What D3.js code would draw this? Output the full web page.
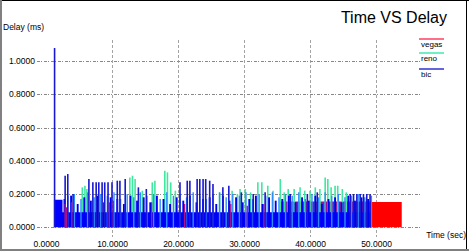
<!DOCTYPE html>
<html><head><meta charset="utf-8">
<script src="https://cdn.jsdelivr.net/npm/d3@7"></script>
<style>html,body{margin:0;padding:0;background:#fff}svg{display:block}text{font-family:"Liberation Sans",Arial,sans-serif}</style>
</head><body><svg id="c" width="469" height="251"></svg>
<script>
// ---------- data ----------
const title = "Time VS Delay";
const yAxisLabel = "Delay (ms)";
const xAxisLabel = "Time (sec)";
const seriesNames = ["vegas", "reno", "bic"];
const xTicks = [0, 10, 20, 30, 40, 50];
const xTickLabels = ["0.0000", "10.0000", "20.0000", "30.0000", "40.0000", "50.0000"];
const yTicks = [0, 0.2, 0.4, 0.6, 0.8, 1.0];
const yTickLabels = ["0.0000", "0.2000", "0.4000", "0.6000", "0.8000", "1.0000"];

// bic: dense lower envelope [time, delay]
const bicFloor = [[1.2, 0.165], [2.4, 0.165], [2.5, 0.09], [49.4, 0.09]];
// bic: dense oscillation lines [time, delay]
const bicMidA = [[2.8,0.17],[3.8,0.19],[4.8,0.14],[5.8,0.18],[6.8,0.16],[7.8,0.19],[8.8,0.15],[9.8,0.18],[10.8,0.17],[11.8,0.14],[12.8,0.19],[13.8,0.16],[14.8,0.18],[15.8,0.15],[16.8,0.19],[17.8,0.17],[18.8,0.14],[19.8,0.18],[20.8,0.16],[21.8,0.19],[22.8,0.15],[23.8,0.17],[24.8,0.18],[25.8,0.14],[26.8,0.19],[27.8,0.16],[28.8,0.18],[29.8,0.15],[30.8,0.17],[31.8,0.19],[32.8,0.14],[33.8,0.18],[34.8,0.16],[35.8,0.17],[36.8,0.19],[37.8,0.15],[38.8,0.18],[39.8,0.16],[40.8,0.19],[41.8,0.14],[42.8,0.17],[43.8,0.18],[44.8,0.15],[45.8,0.19],[46.8,0.16],[47.8,0.18],[48.8,0.17]];
const bicMidB = [[3.3,0.19],[4.3,0.2],[5.3,0.17],[6.3,0.21],[7.3,0.18],[8.3,0.2],[9.3,0.19],[10.3,0.21],[11.3,0.17],[12.3,0.2],[13.3,0.18],[14.3,0.21],[15.3,0.19],[16.3,0.2],[17.3,0.17],[18.3,0.21],[19.3,0.19],[20.3,0.2],[21.3,0.18],[22.3,0.21],[23.3,0.19],[24.3,0.17],[25.3,0.2],[26.3,0.21],[27.3,0.18],[28.3,0.2],[29.3,0.19],[30.3,0.21],[31.3,0.17],[32.3,0.2],[33.3,0.19],[34.3,0.21],[35.3,0.18],[36.3,0.2],[37.3,0.19],[38.3,0.21],[39.3,0.17],[40.3,0.2],[41.3,0.18],[42.3,0.21],[43.3,0.19],[44.3,0.2],[45.3,0.18],[46.3,0.19],[47.3,0.2],[48.3,0.18],[49.3,0.19]];
// bic: tall peaks [time, delay]
const bicPeaks = [[1.3,1.078],[2.9,0.31],[3.3,0.32],[4.1,0.2],[6.5,0.29],[7.1,0.27],[7.6,0.27],[8.0,0.27],[8.5,0.27],[8.9,0.27],[9.4,0.27],[10.0,0.27],[10.8,0.28],[11.2,0.28],[12.0,0.29],[14.0,0.24],[15.2,0.23],[20.3,0.27],[21.4,0.28],[21.8,0.28],[22.9,0.29],[23.3,0.29],[23.8,0.29],[24.2,0.29],[24.8,0.28],[25.3,0.26],[26.8,0.24],[27.7,0.25],[29.6,0.21],[31.4,0.2],[33.2,0.21],[37.0,0.2],[39.6,0.2],[41.1,0.21],[46.1,0.2],[46.6,0.2],[47.1,0.2],[47.6,0.2],[48.1,0.2],[48.6,0.2],[49.1,0.2]];
// reno peaks [time, delay]
const renoPeaks = [[5.5,0.24],[5.9,0.25],[6.2,0.23],[12.7,0.3],[13.1,0.31],[13.5,0.29],[14.6,0.22],[16.1,0.27],[16.5,0.28],[18.0,0.34],[18.4,0.33],[18.9,0.27],[19.6,0.22],[26.3,0.21],[28.2,0.22],[29.0,0.2],[29.4,0.23],[30.2,0.23],[31.0,0.21],[32.1,0.27],[32.7,0.27],[33.6,0.25],[34.4,0.22],[35.5,0.29],[36.1,0.21],[36.7,0.23],[37.6,0.23],[38.5,0.24],[39.2,0.22],[40.0,0.22],[40.8,0.24],[41.5,0.23],[42.3,0.3],[42.7,0.29],[43.2,0.24],[43.8,0.25],[44.2,0.25],[44.9,0.23],[45.5,0.21]];
// vegas: visible spikes, band and tail [time, delay]
const vegasSpikes = [[2.9,0.14],[3.1,0.12],[3.9,0.15],[9.6,0.15],[10.2,0.16],[16.0,0.15],[21.0,0.14],[28.0,0.14],[30.5,0.13],[33.0,0.14]];
const vegasBand = [[35.5,0.155],[49.4,0.155]];
const vegasTail = [[49.4,0.152],[53.9,0.152]];

// ---------- drawing ----------
const svg = d3.select("#c");
const W = 469, H = 251;
svg.append("rect").attr("width", W).attr("height", H).attr("fill", "#fff");

const x = d3.scaleLinear().domain([0, 50]).range([46, 376]);
const y = d3.scaleLinear().domain([0, 1]).range([227.25, 61]);

// gridlines
const g = svg.append("g");
g.selectAll("line.h").data(yTicks).join("line")
  .attr("x1", 37).attr("x2", 420)
  .attr("y1", d => Math.round(y(d)) + 0.5).attr("y2", d => Math.round(y(d)) + 0.5)
  .attr("stroke", "#7a7a7a").attr("stroke-width", 0.9).attr("stroke-dasharray", "3,1,1,2");
g.selectAll("line.v").data(xTicks.slice(1)).join("line")
  .attr("x1", d => Math.round(x(d)) + 0.5).attr("x2", d => Math.round(x(d)) + 0.5)
  .attr("y1", 40).attr("y2", 237)
  .attr("stroke", "#999").attr("stroke-width", 0.9).attr("stroke-dasharray", "3,2");

const plot = svg.append("g");
const vline = (sel, data, color, w) => sel.selectAll(null).data(data).join("line")
  .attr("x1", d => x(d[0])).attr("x2", d => x(d[0]))
  .attr("y1", y(0)).attr("y2", d => y(d[1]))
  .attr("stroke", color).attr("stroke-width", w);
const area = d3.area().x(d => x(d[0])).y0(y(0)).y1(d => y(d[1]));

plot.append("path").datum(vegasBand).attr("d", area).attr("fill", "#9a1090");
vline(plot.append("g"), renoPeaks, "#3ee8a0", 1.6);
plot.append("path").datum(bicFloor).attr("d", area.curve(d3.curveStepAfter)).attr("fill", "#0000ff");
vline(plot.append("g"), bicMidA, "#0000f0", 1.9);
vline(plot.append("g"), bicMidB, "#2f8cff", 1.4);
vline(plot.append("g"), bicPeaks, "#1818d0", 1.6);
vline(plot.append("g"), vegasSpikes, "#b0108a", 1.3);
plot.append("path").datum(vegasTail).attr("d", d3.area().x(d => x(d[0])).y0(y(0)).y1(d => y(d[1]))).attr("fill", "#ff0000");

// axis labels
const axY = d3.axisLeft(y).tickValues(yTicks).tickFormat((d, i) => yTickLabels[i]).tickSize(0);
const gy = svg.append("g").attr("transform", "translate(38,0)").call(axY);
gy.select(".domain").remove();
gy.selectAll("text").attr("font-size", "8.5px").attr("fill", "#000").attr("dx", "0").attr("dy", "0.32em")
  .attr("font-family", "Liberation Sans, Arial, sans-serif");

const axX = d3.axisBottom(x).tickValues(xTicks).tickFormat((d, i) => xTickLabels[i]).tickSize(0);
const gx = svg.append("g").attr("transform", "translate(0,238)").call(axX);
gx.select(".domain").remove();
gx.selectAll("text").attr("font-size", "8.5px").attr("fill", "#000")
  .attr("font-family", "Liberation Sans, Arial, sans-serif");

svg.append("text").attr("x", 3).attr("y", 30).attr("font-size", "8.5px").text(yAxisLabel);
svg.append("text").attr("x", 466).attr("y", 238).attr("text-anchor", "end").attr("font-size", "8.5px").text(xAxisLabel);
svg.append("text").attr("x", 447).attr("y", 23).attr("text-anchor", "end").attr("font-size", "16px").text(title);

// legend
const legendColors = ["#ff4060", "#40e8b0", "#3030d0"];
const legendY = [39, 53, 69];
const lg = svg.append("g");
seriesNames.forEach((n, i) => {
  lg.append("line").attr("x1", 419).attr("x2", 444).attr("y1", legendY[i]).attr("y2", legendY[i])
    .attr("stroke", legendColors[i]).attr("stroke-width", 1.5);
  lg.append("text").attr("x", 421).attr("y", legendY[i] + 7.5).attr("font-size", "8px").text(n);
});

// frame
svg.append("line").attr("x1", 0).attr("x2", W).attr("y1", 0.5).attr("y2", 0.5).attr("stroke", "#000");
svg.append("rect").attr("x", 0).attr("y", 0).attr("width", 2).attr("height", H).attr("fill", "#808080");
svg.append("line").attr("x1", 466.5).attr("x2", 466.5).attr("y1", 0).attr("y2", H).attr("stroke", "#000");
svg.append("rect").attr("x", 0).attr("y", 249).attr("width", W).attr("height", 2).attr("fill", "#808080");
</script></body></html>
